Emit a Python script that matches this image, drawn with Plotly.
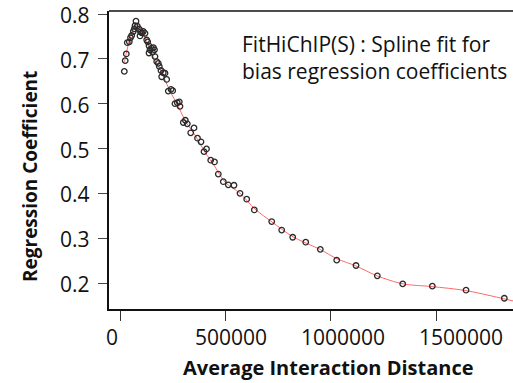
import plotly.graph_objects as go

# Observed regression coefficients (points)
dist = [20400, 24700, 29900, 34600, 44100, 49800, 55500, 63100, 67800, 71200,
        75900, 82100, 91600, 94900, 97300, 103000, 110500, 118600, 126700, 131400,
        137600, 137600, 142300, 149400, 154200, 158900, 163700, 166000, 174100, 181700,
        186400, 194500, 197800, 205400, 213500, 221500, 229100, 241900, 250000, 260900,
        271800, 281300, 284600, 300300, 309800, 319300, 335400, 351100, 367700, 384300,
        398500, 410400, 430300, 448300, 466300, 490100, 513800, 540800, 569300, 601100,
        637100, 719700, 767100, 819300, 881000, 950200, 1028000, 1119600, 1220600, 1341200,
        1481600, 1641500, 1823200]
coef = [0.672, 0.696, 0.711, 0.736, 0.738, 0.747, 0.752, 0.761, 0.767, 0.774,
        0.784, 0.773, 0.766, 0.751, 0.760, 0.758, 0.761, 0.757, 0.742, 0.738,
        0.729, 0.713, 0.720, 0.724, 0.715, 0.725, 0.720, 0.705, 0.694, 0.690,
        0.683, 0.674, 0.660, 0.669, 0.668, 0.654, 0.628, 0.632, 0.629, 0.600,
        0.602, 0.604, 0.594, 0.558, 0.563, 0.555, 0.535, 0.546, 0.523, 0.515,
        0.493, 0.499, 0.474, 0.470, 0.443, 0.426, 0.419, 0.418, 0.400, 0.387,
        0.363, 0.337, 0.318, 0.302, 0.291, 0.275, 0.251, 0.239, 0.216, 0.198,
        0.193, 0.184, 0.166]

# Spline fit (red curve)
fit_x = [21300, 47400, 75900, 104400, 132800, 166000, 199300, 237200, 275100, 313100,
         355800, 403200, 450700, 498100, 569300, 640400, 721100, 820700, 948800, 1029400,
         1119600, 1219200, 1342600, 1480100, 1641500, 1864700]
fit_y = [0.693, 0.746, 0.775, 0.764, 0.731, 0.697, 0.668, 0.628, 0.595, 0.559,
         0.530, 0.492, 0.459, 0.425, 0.400, 0.365, 0.336, 0.303, 0.275, 0.254,
         0.238, 0.216, 0.198, 0.192, 0.183, 0.160]

x_ticks = [0, 500000, 1000000, 1500000]
x_tick_text = ["0", "500000", "1000000", "1500000"]
x_tick_shift = [-8, 6, 12, 25]
y_ticks = [0.2, 0.3, 0.4, 0.5, 0.6, 0.7, 0.8]
y_tick_text = ["0.2", "0.3", "0.4", "0.5", "0.6", "0.7", "0.8"]

FONT = "Open Sans"
W, H = 513, 383
L, R, T, B = 109, 513, 11, 309


def px(xp):
    return (xp - L) / (R - L)


def py(yp):
    return (B - yp) / (B - T)


fig = go.Figure()
fig.add_trace(go.Scatter(x=fit_x, y=fit_y, mode="lines",
                         line=dict(color="#ff6a6a", width=1, shape="spline", smoothing=0.8),
                         hoverinfo="skip", showlegend=False))
fig.add_trace(go.Scatter(x=dist, y=coef, mode="markers",
                         marker=dict(symbol="circle-open", size=5.5, color="#2a2a2a",
                                     line=dict(width=1.3, color="#2a2a2a")),
                         showlegend=False))

fig.update_layout(
    width=W, height=H,
    margin=dict(l=L, r=W - R, t=T, b=H - B),
    paper_bgcolor="white", plot_bgcolor="white",
    font=dict(family=FONT, color="#111111"),
    xaxis=dict(range=[-52180, 1864300], showgrid=False, zeroline=False,
               showline=True, linecolor="#111111", linewidth=1.5,
               ticks="outside", ticklen=10, tickwidth=1.3, tickcolor="#333333",
               tickvals=x_ticks, showticklabels=False),
    yaxis=dict(range=[0.142, 0.8067], showgrid=False, zeroline=False,
               showline=True, linecolor="#111111", linewidth=1.5,
               ticks="outside", ticklen=9, tickwidth=1.3, tickcolor="#444444",
               tickvals=y_ticks, showticklabels=False),
    shapes=[dict(type="line", xref="paper", yref="paper", x0=0, x1=1, y0=1, y1=1,
                 line=dict(color="#111111", width=1.5))],
)

for v, t, s in zip(x_ticks, x_tick_text, x_tick_shift):
    fig.add_annotation(x=v, y=0, xref="x", yref="paper", text=t, showarrow=False,
                       xshift=s, yshift=-28, yanchor="middle", xanchor="center",
                       font=dict(size=21, family=FONT, color="#111111"))

for v, t in zip(y_ticks, y_tick_text):
    fig.add_annotation(x=0, y=v, xref="paper", yref="y", text=t, showarrow=False,
                       xshift=-17, yshift=-1, xanchor="right", yanchor="middle",
                       font=dict(size=21, family=FONT, color="#111111"))

fig.add_annotation(xref="paper", yref="paper", x=px(328), y=py(367),
                   xanchor="center", yanchor="middle",
                   text="<b>Average Interaction Distance</b>", showarrow=False,
                   font=dict(size=20, family=FONT, color="#111111"))
fig.add_annotation(xref="paper", yref="paper", x=px(30), y=py(177),
                   text="<b>Regression Coefficient</b>", textangle=-90, showarrow=False,
                   xanchor="center", yanchor="middle",
                   font=dict(size=19, family=FONT, color="#111111"))
fig.add_annotation(xref="paper", yref="paper", x=px(240), y=py(28),
                   text="FitHiChIP(S) : Spline fit for<br>bias regression coefficients",
                   showarrow=False, xanchor="left", yanchor="top", align="left",
                   font=dict(size=21, family=FONT, color="#111111"))

fig.write_html("out.html")
